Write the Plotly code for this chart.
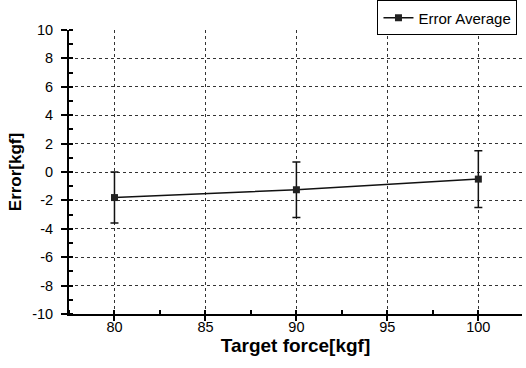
import plotly.graph_objects as go

target_force = [80, 90, 100]
error_avg = [-1.8, -1.25, -0.5]
error_dev = [1.8, 1.95, 2.0]
x_ticks = [80, 85, 90, 95, 100]
y_ticks = [-10, -8, -6, -4, -2, 0, 2, 4, 6, 8, 10]
y_tick_labels = ["-10", "-8", "-6", "-4", "-2", "0", "2", "4", "6", "8", "10"]

fig = go.Figure()
fig.add_trace(go.Scatter(
    x=target_force, y=error_avg,
    mode="lines+markers",
    name="Error Average",
    line=dict(color="#111111", width=1.5),
    marker=dict(symbol="square", size=7, color="#222222"),
    error_y=dict(type="data", array=error_dev, visible=True,
                 color="#111111", thickness=1.5, width=4),
))

font = "Arial, Liberation Sans, sans-serif"
fig.update_layout(
    width=526, height=368,
    margin=dict(l=69, r=4, t=30, b=54, autoexpand=False),
    paper_bgcolor="white", plot_bgcolor="white",
    font=dict(family=font, color="black", size=14),
    showlegend=True,
    legend=dict(x=0.99, y=1.104, xanchor="right", yanchor="top",
                xref="paper", yref="paper",
                bordercolor="black", borderwidth=1, bgcolor="white",
                font=dict(size=15, family=font),
                itemwidth=30, tracegroupgap=0),
)
fig.update_xaxes(
    range=[77.5, 102.4], tickvals=x_ticks,
    showline=True, linecolor="black", linewidth=2,
    ticks="outside", ticklen=5, tickcolor="black", tickwidth=1.5,
    minor=dict(ticks="inside", ticklen=4, tickcolor="black", dtick=2.5, showgrid=False),
    showgrid=True, gridcolor="#333333", griddash="dot", gridwidth=1,
    zeroline=False,
    ticklabelstandoff=-6,
    title=dict(text="<b>Target force[kgf]</b>", font=dict(size=19, family=font), standoff=4),
    tickfont=dict(size=14.5),
)
fig.update_yaxes(
    range=[-10, 10], tickvals=y_ticks, ticktext=y_tick_labels,
    showline=True, linecolor="black", linewidth=2,
    ticks="outside", ticklen=6, tickcolor="black", tickwidth=1.5,
    minor=dict(ticks="inside", ticklen=4, tickcolor="black", dtick=1, showgrid=False),
    showgrid=True, gridcolor="#333333", griddash="dot", gridwidth=1,
    zeroline=False,
    ticklabelstandoff=5,
    title=dict(text="<b>Error[kgf]</b>", font=dict(size=17, family=font), standoff=6),
    tickfont=dict(size=14.5),
)

fig.write_html("out.html", config={"displayModeBar": False},
               post_script="document.body.style.margin='0';")
